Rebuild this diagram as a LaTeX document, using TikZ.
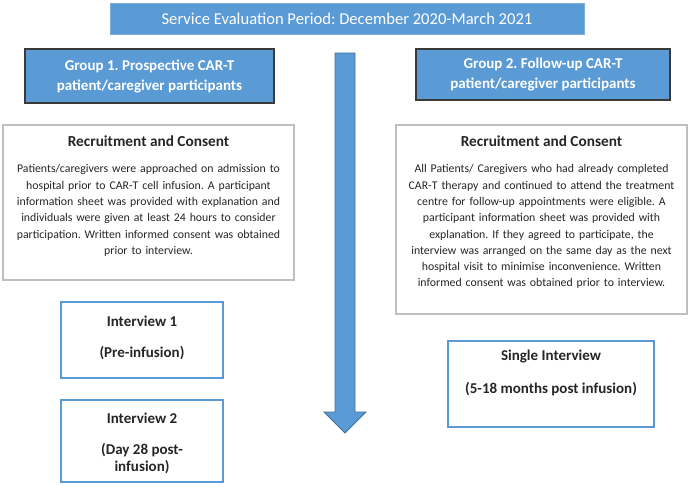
\documentclass[tikz,border=0pt]{standalone}
\usepackage{fontspec}
\setmainfont{Carlito}
\frenchspacing
\definecolor{blu}{HTML}{5B9BD5}
\definecolor{bluedge}{HTML}{41719C}
\definecolor{grayedge}{HTML}{BFBFBF}
\definecolor{darkedge}{HTML}{3A3A3A}
\definecolor{txt}{HTML}{262626}
\begin{document}
\begin{tikzpicture}[x=1pt,y=-1pt,
  titlebox/.style={draw=blu!80!white,line width=1pt,fill=blu,text=white,inner sep=0pt,
    font=\fontsize{16.6}{19}\selectfont},
  groupbox/.style={draw=darkedge,line width=1.5pt,fill=blu,text=white,inner sep=0pt,align=center,
    font=\fontsize{15}{20}\selectfont\bfseries},
  recbox/.style={draw=grayedge,line width=1.3pt,fill=white,inner sep=0pt},
  intbox/.style={draw=blu,line width=1.1pt,fill=white,inner sep=0pt},
  headtxt/.style={text=txt,inner sep=0pt,font=\fontsize{15.3}{18}\selectfont\bfseries},
  bodytxt/.style={text=txt,inner sep=0pt,align=center,text width=289pt,font=\fontsize{11.8}{16.3}\selectfont},
  inttxt/.style={text=txt,inner sep=0pt,align=center,font=\fontsize{15}{17}\selectfont\bfseries},
  bigarrow/.style={fill=blu,draw=bluedge,line width=0.8pt,line join=miter}
]
\useasboundingbox (0,0) rectangle (690,485);

\node[titlebox,minimum width=474pt,minimum height=31pt] (title) at (347,18.5)
  {Service Evaluation Period: December 2020-March 2021};

\node[groupbox,minimum width=249pt,minimum height=54pt] (g1) at (149.5,76)
  {Group 1. Prospective CAR-T\\patient/caregiver participants};
\node[groupbox,minimum width=254pt,minimum height=51pt] (g2) at (543,74.5)
  {Group 2. Follow-up CAR-T\\patient/caregiver participants};

% central arrow
\draw[bigarrow] (335,53) -- (355,53) -- (355,412) -- (366,412) -- (345,433)
  -- (324,412) -- (335,412) -- cycle;

% recruitment boxes
\node[recbox,minimum width=291pt,minimum height=155pt] (rc1) at (148.5,202.5) {};
\node[headtxt] (rc1h) at (148.5,141) {Recruitment and Consent};
\node[bodytxt,anchor=north] (rc1b) at (148.5,164.5)
  {Patients/caregivers were approached on admission to\\
   hospital prior to CAR-T cell infusion. A participant\\
   information sheet was provided with explanation and\\
   individuals were given at least 24 hours to consider\\
   participation. Written informed consent was obtained\\
   prior to interview.};

\node[recbox,minimum width=291pt,minimum height=189pt] (rc2) at (541.5,219.5) {};
\node[headtxt] (rc2h) at (541.5,141) {Recruitment and Consent};
\node[bodytxt,anchor=north] (rc2b) at (541.5,164.5)
  {All Patients/ Caregivers who had already completed\\
   CAR-T therapy and continued to attend the treatment\\
   centre for follow-up appointments were eligible. A\\
   participant information sheet was provided with\\
   explanation. If they agreed to participate, the\\
   interview was arranged on the same day as the next\\
   hospital visit to minimise inconvenience. Written\\
   informed consent was obtained prior to interview.};

% interview boxes
\node[intbox,minimum width=162pt,minimum height=76pt] (i1) at (142,340) {};
\node[inttxt] (i1a) at (142,321) {Interview 1};
\node[inttxt] (i1b) at (142,353) {(Pre-infusion)};

\node[intbox,minimum width=162pt,minimum height=82pt] (i2) at (142,441) {};
\node[inttxt] (i2a) at (142,418) {Interview 2};
\node[inttxt,anchor=north] (i2b) at (142,443) {(Day 28 post-\\infusion)};

\node[intbox,minimum width=206pt,minimum height=86pt] (si) at (551,384) {};
\node[inttxt] (sia) at (551,357) {Single Interview};
\node[inttxt] (sib) at (551,389) {(5-18 months post infusion)};
\end{tikzpicture}
\end{document}
